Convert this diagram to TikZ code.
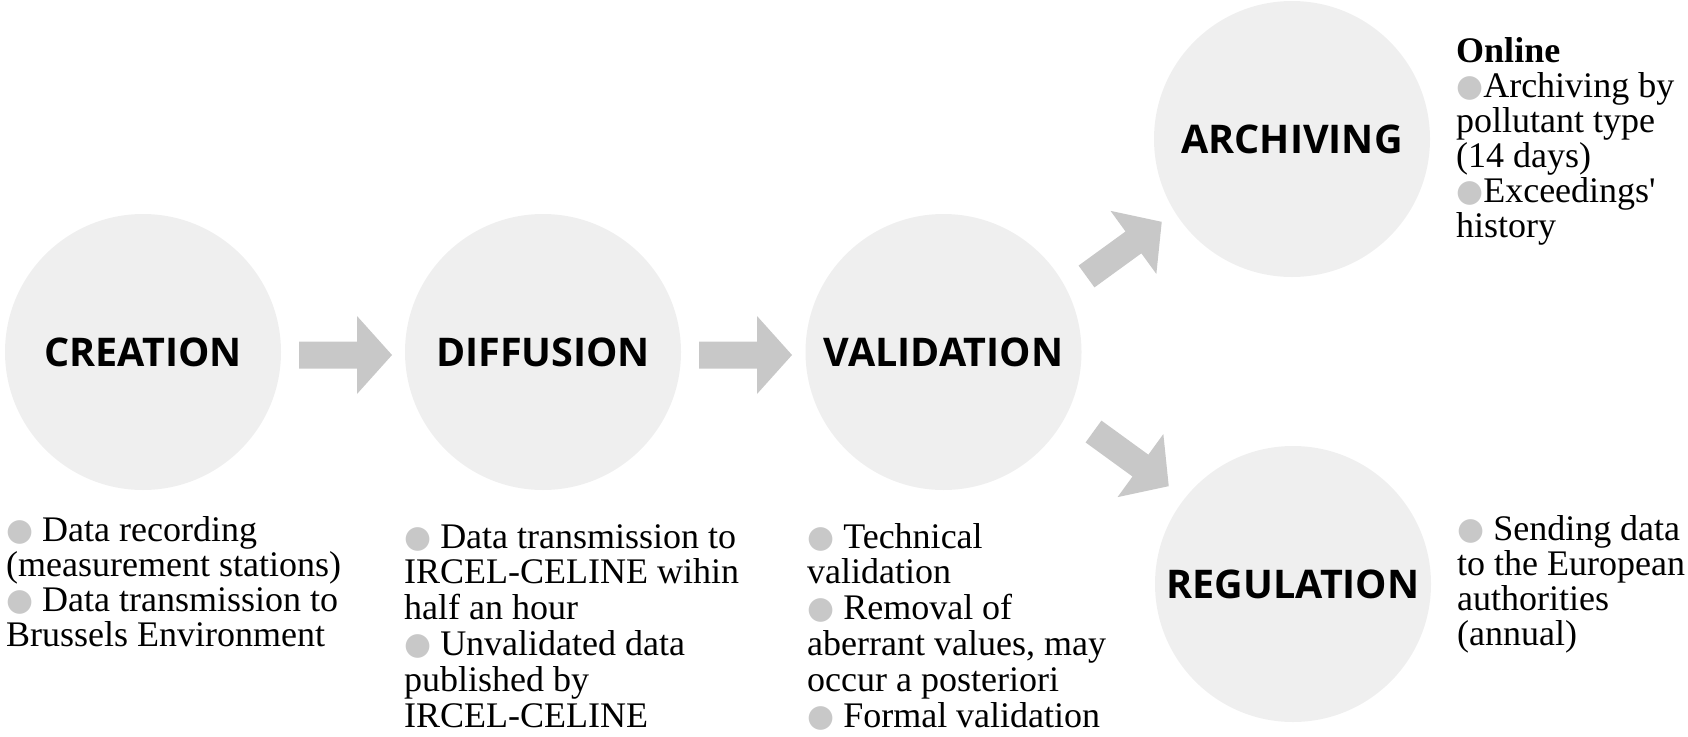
\documentclass[tikz,border=0pt]{standalone}
\usepackage{fontspec}
\setmainfont{Liberation Serif}
\newfontfamily\titlefont{Open Sans}
\newfontfamily\symfont{DejaVu Sans}
\definecolor{circgray}{RGB}{239,239,239}
\definecolor{arrgray}{RGB}{200,200,200}
\definecolor{bulgray}{RGB}{200,200,200}
\newcommand\bul{{\symfont\fontsize{31}{31}\selectfont\color{bulgray}\raisebox{1pt}{●}}}
\tikzset{
  stage/.style={circle, fill=circgray, minimum size=276pt, inner sep=0pt,
    font=\titlefont\bfseries\fontsize{39.5}{40}\selectfont},
  desc/.style={inner sep=0pt, align=left, anchor=base west,
    font=\fontsize{36}{35}\selectfont},
  descwide/.style={desc, font=\fontsize{36}{35.8}\selectfont},
  blockarrow/.pic={\fill[arrgray] (0,-13.5) -- (58,-13.5) -- (58,-39) -- (93,0)
    -- (58,39) -- (58,13.5) -- (0,13.5) -- cycle;}
}
\begin{document}
\begin{tikzpicture}[x=1pt, y=-1pt]
\useasboundingbox (0,0) rectangle (1688,736);
\node[stage] (cre) at (143,352) {CREATION};
\node[stage] (dif) at (543,352) {DIFFUSION};
\node[stage] (val) at (943.5,352) {VALIDATION};
\node[stage] (arc) at (1292,139) {ARCHIVING};
\node[stage] (reg) at (1293,584) {REGULATION};
\pic at (299,355) {blockarrow};
\pic at (699,355) {blockarrow};
\pic[rotate=36] at (1086.5,276.5) {blockarrow};
\pic[rotate=-36] at (1093.5,431.5) {blockarrow};
\node[desc] (t1) at (6,646) {\bul\ Data recording\\(measurement stations)\\\bul\ Data transmission to\\Brussels Environment};
\node[descwide] (t2) at (404,727) {\bul\ Data transmission to\\IRCEL-CELINE wihin\\half an hour\\\bul\ Unvalidated data\\published by\\IRCEL-CELINE};
\node[descwide] (t3) at (807,727) {\bul\ Technical\\validation\\\bul\ Removal of\\aberrant values, may\\occur a posteriori\\\bul\ Formal validation};
\node[desc] (t4) at (1457,645) {\bul\ Sending data\\to the European\\authorities\\(annual)};
\node[desc] (t5) at (1456,237) {\textbf{Online}\\\bul Archiving by\\pollutant type\\(14 days)\\\bul Exceedings\textquotesingle\\history};
\end{tikzpicture}
\end{document}
